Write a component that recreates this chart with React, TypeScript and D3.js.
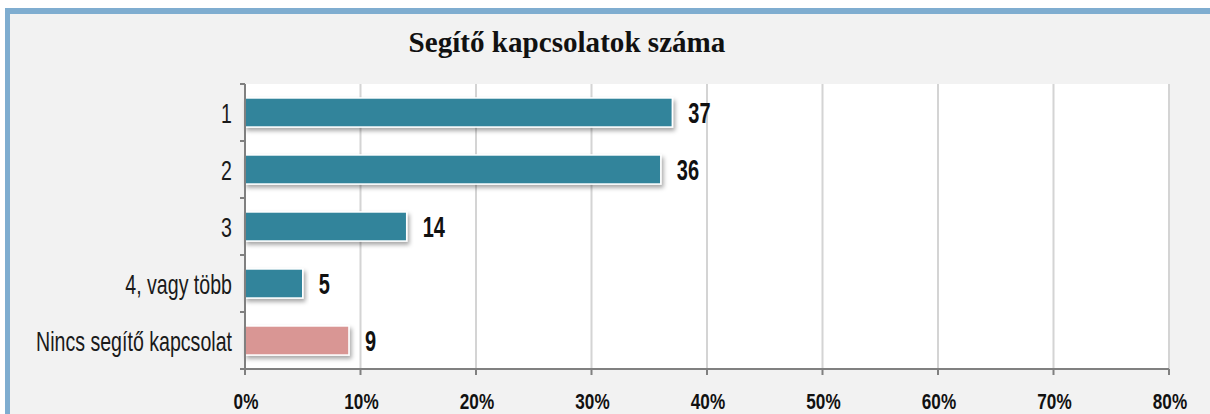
import React from "react";
import * as d3 from "d3";

const categories = ["1", "2", "3", "4, vagy több", "Nincs segítő kapcsolat"];
const values = [37, 36, 14, 5, 9];
const barColors = ["#31849b", "#31849b", "#31849b", "#31849b", "#d99694"];
const xTicks = [0, 10, 20, 30, 40, 50, 60, 70, 80];
const title = "Segítő kapcsolatok száma";

const W = 1210;
const H = 414;
const plot = { left: 245, right: 1169, top: 84, bottom: 369 };
const sans = "'Liberation Sans', Arial, sans-serif";

function NText(props: {
  x: number;
  y: number;
  sx: number;
  size: number;
  bold?: boolean;
  anchor?: "start" | "middle" | "end";
  family?: string;
  fill?: string;
  children: React.ReactNode;
}) {
  return (
    <text
      transform={`translate(${props.x},${props.y}) scale(${props.sx},1)`}
      textAnchor={props.anchor || "start"}
      fontFamily={props.family || sans}
      fontWeight={props.bold ? "bold" : "normal"}
      fontSize={props.size}
      fill={props.fill || "#111"}
    >
      {props.children}
    </text>
  );
}

export default function App() {
  const x = d3.scaleLinear().domain([0, 80]).range([plot.left, plot.right]);
  const y = d3
    .scaleBand<string>()
    .domain(categories)
    .range([plot.top, plot.bottom])
    .paddingInner(0.49)
    .paddingOuter(0.245);
  const yb = d3.scaleBand<string>().domain(categories).range([plot.top, plot.bottom]);
  const bounds = categories.map((c) => yb(c) as number).concat([plot.bottom]);

  return (
    <svg
      width={W}
      height={H}
      style={{ position: "absolute", left: 0, top: 0 }}
      xmlns="http://www.w3.org/2000/svg"
    >
      <defs>
        <filter id="sh" x="-5%" y="-30%" width="115%" height="190%">
          <feDropShadow dx="2" dy="3" stdDeviation="2" floodColor="#000" floodOpacity="0.35" />
        </filter>
      </defs>
      <rect x={0} y={0} width={W} height={H} fill="#ffffff" />
      <rect x={5} y={8} width={W - 5} height={H - 8} fill="#f2f2f2" />
      <rect x={5} y={8} width={W - 5} height={6} fill="#7fadd0" />
      <rect x={5} y={8} width={5} height={H - 8} fill="#7fadd0" />

      <NText
        x={567}
        y={52}
        sx={0.97}
        size={30}
        bold
        anchor="middle"
        family="'Liberation Serif', 'Times New Roman', serif"
      >
        {title}
      </NText>

      <rect
        x={plot.left}
        y={plot.top}
        width={plot.right - plot.left}
        height={plot.bottom - plot.top}
        fill="#ffffff"
      />
      {xTicks.map((t) => (
        <line
          key={"g" + t}
          x1={x(t)}
          x2={x(t)}
          y1={plot.top}
          y2={plot.bottom}
          stroke="#d4d4d4"
          strokeWidth={2}
        />
      ))}

      {categories.map((c, i) => (
        <g key={c}>
          <rect
            x={x(0)}
            y={y(c) as number}
            width={x(values[i]) - x(0)}
            height={y.bandwidth()}
            fill={barColors[i]}
            stroke="#ffffff"
            strokeWidth={1.5}
            filter="url(#sh)"
          />
          <NText
            x={x(values[i]) + 16}
            y={(y(c) as number) + y.bandwidth() / 2 + 10}
            sx={0.69}
            size={29}
            bold
          >
            {values[i]}
          </NText>
          <NText
            x={232}
            y={(yb(c) as number) + yb.bandwidth() / 2 + 10}
            sx={0.7}
            size={28}
            anchor="end"
            fill="#1a1a1a"
          >
            {c}
          </NText>
        </g>
      ))}

      <line x1={plot.left} x2={plot.left} y1={plot.top} y2={plot.bottom} stroke="#808080" strokeWidth={2} />
      {bounds.map((b, i) => (
        <line key={"yt" + i} x1={plot.left - 5} x2={plot.left} y1={b} y2={b} stroke="#808080" strokeWidth={2} />
      ))}
      <line x1={plot.left} x2={plot.right} y1={plot.bottom} y2={plot.bottom} stroke="#808080" strokeWidth={2} />
      {xTicks.map((t) => (
        <g key={"xt" + t}>
          <line x1={x(t)} x2={x(t)} y1={plot.bottom} y2={plot.bottom + 6} stroke="#808080" strokeWidth={2} />
          <NText x={x(t) + 1} y={409} sx={0.78} size={22} bold anchor="middle">
            {t + "%"}
          </NText>
        </g>
      ))}
    </svg>
  );
}
